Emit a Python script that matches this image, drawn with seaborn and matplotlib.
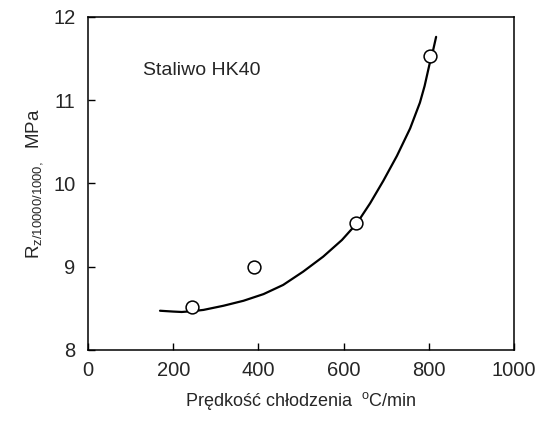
import matplotlib
matplotlib.use("Agg")
import matplotlib.pyplot as plt
import seaborn as sns
import pandas as pd

# measured points
cooling_rate = [245, 390, 630, 802]
strength = [8.51, 9.0, 9.53, 11.53]

# trend curve
curve_x = [169, 200, 220, 245, 271, 318, 365, 412, 458, 505, 552, 596, 631,
           662, 693, 725, 756, 779, 790, 801, 810, 817]
curve_y = [8.47, 8.46, 8.455, 8.465, 8.48, 8.53, 8.59, 8.67, 8.78, 8.94, 9.12,
           9.32, 9.52, 9.76, 10.03, 10.33, 10.66, 10.97, 11.17, 11.42, 11.60, 11.76]

x_ticks = [0, 200, 400, 600, 800, 1000]
y_ticks = [8, 9, 10, 11, 12]

sns.set_style("ticks")
plt.rcParams["font.family"] = ["Liberation Sans", "DejaVu Sans"]
plt.rcParams["mathtext.fontset"] = "custom"
plt.rcParams["mathtext.rm"] = "Liberation Sans"
plt.rcParams["mathtext.it"] = "Liberation Sans:italic"

points = pd.DataFrame({"rate": cooling_rate, "R": strength})
curve = pd.DataFrame({"rate": curve_x, "R": curve_y})

fig = plt.figure(figsize=(5.4, 4.33), dpi=100)
ax = fig.add_axes([0.163, 0.192, 0.789, 0.769])

sns.lineplot(data=curve, x="rate", y="R", ax=ax, color="black", linewidth=1.6,
             sort=False, estimator=None)
sns.scatterplot(data=points, x="rate", y="R", ax=ax, s=85, marker="o",
                facecolor="white", edgecolor="black", linewidth=1.1, zorder=3)

ax.set_xlim(0, 1000)
ax.set_ylim(8, 12)
ax.set_xticks(x_ticks)
ax.set_yticks(y_ticks)
ax.tick_params(direction="in", length=5, width=1, labelsize=14.5, color="black")
ax.tick_params(axis="x", pad=8)
ax.tick_params(axis="y", pad=9)
for side in ["top", "right", "left", "bottom"]:
    ax.spines[side].set_visible(True)
    ax.spines[side].set_linewidth(1.1)
    ax.spines[side].set_color("black")

ax.set_xlabel(r"Prędkość chłodzenia  $^{\mathregular{o}}$C/min", fontsize=13, labelpad=7)
ax.set_ylabel(r"R$_{\mathregular{z/10000/1000,}}$  MPa", fontsize=13.5, labelpad=6)
ax.text(129, 11.36, "Staliwo HK40", fontsize=14, va="center", ha="left")

fig.savefig("out.png", dpi=100)
